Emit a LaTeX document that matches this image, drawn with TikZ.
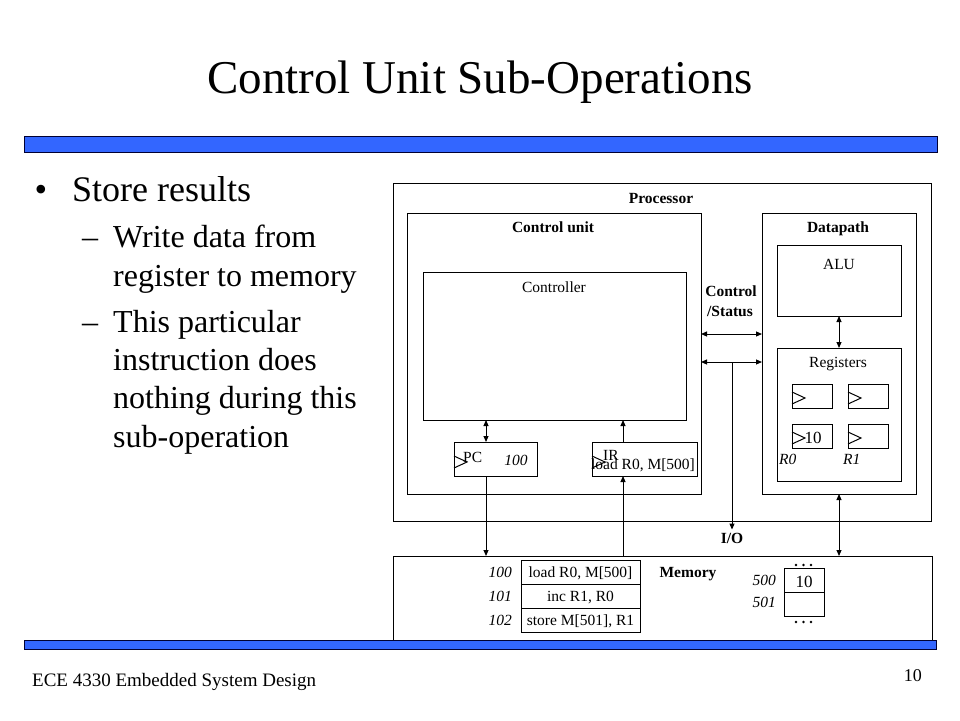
\documentclass[tikz,border=0pt]{standalone}
\usepackage{fontspec}
\setmainfont{Liberation Serif}
\usetikzlibrary{arrows.meta}
\definecolor{barblue}{HTML}{3366FF}
\definecolor{barline}{HTML}{000033}
\begin{document}
\begin{tikzpicture}[x=1pt,y=-1pt,
  >={Triangle[length=6pt,width=5pt]},
  box/.style={draw, line width=1pt, inner sep=0pt, outer sep=0pt},
  lbl/.style={inner sep=0pt, anchor=base, font=\fontsize{15.5}{18}\selectfont},
  blbl/.style={inner sep=0pt, anchor=base, font=\fontsize{15.5}{18}\selectfont\bfseries},
  ilbl/.style={inner sep=0pt, anchor=base, font=\fontsize{15.5}{18}\selectfont\itshape},
  conn/.style={line width=1pt},
  clk/.style={line width=1pt},
  bar/.style={fill=barblue, draw=barline, line width=1pt},
  bigtxt/.style={inner sep=0pt, anchor=base west, font=\fontsize{36}{43}\selectfont},
  subtxt/.style={inner sep=0pt, anchor=base west, font=\fontsize{32}{38}\selectfont},
  dotm/.style={fill=black}
]
\useasboundingbox[fill=white] (0,0) rectangle (960,720);

% title and bars
\node[inner sep=0pt, anchor=base, font=\fontsize{47}{56}\selectfont] (title) at (480,93) {Control Unit Sub-Operations};
\fill[bar] (24,136) rectangle (937,152);

% bullet text
\node[bigtxt] (b1) at (34.5,201) {•};
\node[bigtxt] (t1) at (72,201) {Store results};
\node[subtxt] (d1) at (82,247) {–};
\node[subtxt] (s1) at (113,247) {Write data from};
\node[subtxt] (s2) at (113,286) {register to memory};
\node[subtxt] (d2) at (82,332) {–};
\node[subtxt] (s3) at (113,332) {This particular};
\node[subtxt] (s4) at (113,370) {instruction does};
\node[subtxt] (s5) at (113,408) {nothing during this};
\node[subtxt] (s6) at (113,447) {sub-operation};

% boxes
\node[box, minimum width=538pt, minimum height=338pt] (proc) at (662,352) {};
\node[box, minimum width=294pt, minimum height=281pt] (cu) at (554,353.5) {};
\node[box, minimum width=263pt, minimum height=148pt] (ctrl) at (554.5,346) {};
\node[box, minimum width=83pt, minimum height=34pt] (pc) at (495.5,459) {};
\node[box, minimum width=105pt, minimum height=34pt] (ir) at (644.5,459) {};
\node[box, minimum width=154pt, minimum height=281pt] (dp) at (839,353.5) {};
\node[box, minimum width=124pt, minimum height=71pt] (alu) at (839,280.5) {};
\node[box, minimum width=124pt, minimum height=133pt] (regs) at (839,414.5) {};
\node[box, minimum width=40pt, minimum height=24pt] (r00) at (812,396) {};
\node[box, minimum width=40pt, minimum height=24pt] (r01) at (868,396) {};
\node[box, minimum width=40pt, minimum height=24pt] (r10) at (812,436) {};
\node[box, minimum width=40pt, minimum height=24pt] (r11) at (868,436) {};
\node[box, minimum width=539pt, minimum height=86pt] (mem) at (662.5,599) {};
\node[box, minimum width=119pt, minimum height=24pt] (m100) at (580.5,572) {};
\node[box, minimum width=119pt, minimum height=24pt] (m101) at (580.5,596) {};
\node[box, minimum width=119pt, minimum height=24pt] (m102) at (580.5,620) {};
\node[box, minimum width=40pt, minimum height=24pt] (m500) at (804,580) {};
\node[box, minimum width=40pt, minimum height=24pt] (m501) at (804,604) {};

% clock triangles
\draw[clk] (454,456) -- (467,462) -- (454,468);
\draw[clk] (592,456) -- (605,462) -- (592,468);
\draw[clk] (792,392) -- (805,398) -- (792,404);
\draw[clk] (848,392) -- (861,398) -- (848,404);
\draw[clk] (792,432) -- (805,438) -- (792,444);
\draw[clk] (848,432) -- (861,438) -- (848,444);

% labels
\node[blbl] (lproc) at (661,203) {Processor};
\node[blbl] (lcu) at (553,232) {Control unit};
\node[lbl] (lctrl) at (554,292) {Controller};
\node[blbl] (ldp) at (838,232) {Datapath};
\node[lbl] (lalu) at (839,269) {ALU};
\node[lbl] (lregs) at (838,367) {Registers};
\node[blbl] (lcs1) at (731,296) {Control};
\node[blbl] (lcs2) at (730,316) {/Status};
\node[blbl] (io) at (732,543) {I/O};
\node[ilbl, anchor=base west] (lr0) at (779,464) {R0};
\node[ilbl, anchor=base west] (lr1) at (843,464) {R1};
\node[inner sep=0pt, anchor=base, font=\fontsize{17}{20}\selectfont] (v10) at (813,443) {10};
\node[lbl, anchor=base west] (lpc) at (463,462) {PC};
\node[ilbl] (vpc) at (516,465) {100};
\node[lbl, anchor=base west] (lir) at (603,460) {IR};
\node[lbl] (vir) at (643,469) {load R0, M[500]};
\node[blbl] (lmem) at (688,577) {Memory};
\node[ilbl, anchor=base east] (a100) at (512,577) {100};
\node[ilbl, anchor=base east] (a101) at (512,601) {101};
\node[ilbl, anchor=base east] (a102) at (512,625) {102};
\node[lbl] (c100) at (580.5,577) {load R0, M[500]};
\node[lbl] (c101) at (580.5,601) {inc R1, R0};
\node[lbl] (c102) at (580.5,625) {store M[501], R1};
\node[ilbl, anchor=base east] (a500) at (776,585) {500};
\node[ilbl, anchor=base east] (a501) at (776,607) {501};
\node[inner sep=0pt, anchor=base, font=\fontsize{17}{20}\selectfont] (v500) at (804,587) {10};

% dots
\foreach \dx in {796,803.5,811}{
  \fill[dotm] (\dx,565) circle (1.4pt);
  \fill[dotm] (\dx,622) circle (1.4pt);
}

% connectors
\coordinate (xpc) at (486,0);
\coordinate (xir) at (623,0);
\coordinate (cs1) at (0,334);
\coordinate (cs2) at (0,362);
\coordinate (iotop) at (732,362);
\draw[conn,<->] (ctrl.south -| xpc) -- (pc.north -| xpc);
\draw[conn,->] (ir.north -| xir) -- (ctrl.south -| xir);
\draw[conn,->] (pc.south -| xpc) -- (mem.north -| xpc);
\draw[conn,->] (mem.north -| xir) -- (ir.south -| xir);
\draw[conn,<->] (alu.south) -- (regs.north);
\draw[conn,<->] (cu.east |- cs1) -- (dp.west |- cs1);
\draw[conn,<->] (cu.east |- cs2) -- (dp.west |- cs2);
\draw[conn,->] (iotop) -- ([yshift=3pt]io.north);
\draw[conn,<->] (dp.south) -- (dp.south |- mem.north);

% bottom bar and footer
\fill[bar] (24,640) rectangle (936,649);
\node[inner sep=0pt, anchor=base west, font=\fontsize{19}{22}\selectfont] (foot) at (32,686) {ECE 4330 Embedded System Design};
\node[inner sep=0pt, anchor=base east, font=\fontsize{18}{22}\selectfont] (page) at (922,681) {10};
\end{tikzpicture}
\end{document}
